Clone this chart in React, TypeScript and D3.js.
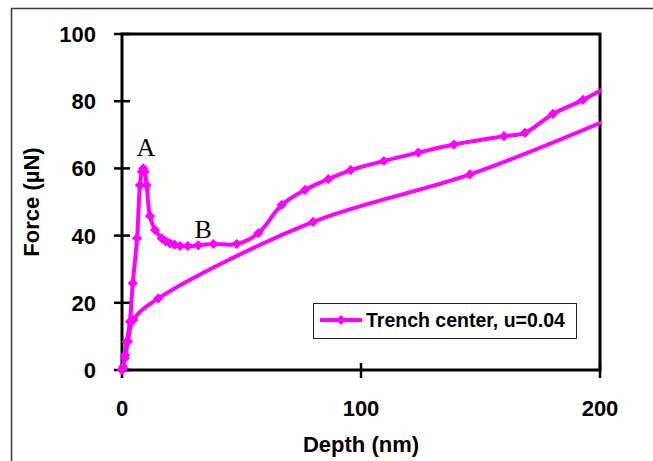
import React from "react";
import * as d3 from "d3";

// Loading branch (depth nm, force µN)
const loadDepth = [0, 0.5, 1.3, 2, 3.3, 4.5, 6.3, 7.5, 8.3, 8.9, 9.5, 10.3, 11.7, 13.8, 16.6, 18.3, 20.1, 22, 24.3, 27.5, 31.9, 38.2, 48, 57, 66.8, 76.6, 86.3, 95.7, 109.6, 124, 138.9, 159.8, 168.6, 180.3, 192.9, 206];
const loadForce = [0, 1, 4.5, 8.4, 14.4, 25.8, 39.2, 55, 59, 60, 59, 55, 45.8, 41.7, 39.2, 38.3, 37.7, 37.3, 36.9, 36.9, 37.1, 37.5, 37.5, 40.7, 49.1, 53.6, 56.8, 59.5, 62.2, 64.7, 67.1, 69.6, 70.6, 76.2, 80.4, 85.5];
// Unloading branch
const unloadDepth = [206, 145.6, 80, 15.2, 4.7, 2.5, 1.2, 0];
const unloadForce = [75.3, 58.2, 44.1, 21.3, 14.9, 8.5, 3.5, 0];

const xTicks = [0, 100, 200];
const yTicks = [0, 20, 40, 60, 80, 100];
const seriesName = "Trench center, u=0.04";
const xTitle = "Depth (nm)";
const yTitle = "Force (µN)";
const pointLabels = [
  { text: "A", depth: 10, force: 60 },
  { text: "B", depth: 34, force: 37 },
];

const W = 653, H = 461;
const L = 122, R = 600, T = 34, B = 370;
const MAG = "#FF00FF";
const FONT = "'Liberation Sans', Arial, sans-serif";

export default function App() {
  const x = d3.scaleLinear().domain([0, 200]).range([L, R]);
  const y = d3.scaleLinear().domain([0, 100]).range([B, T]);
  const load = loadDepth.map((d, i) => [d, loadForce[i]] as [number, number]);
  const unload = unloadDepth.map((d, i) => [d, unloadForce[i]] as [number, number]);
  const line = d3
    .line<[number, number]>()
    .x((d) => x(d[0]))
    .y((d) => y(d[1]))
    .curve(d3.curveCatmullRom.alpha(0.5));
  const diamond = d3.symbol(d3.symbolSquare, 52)()!;
  const pts = [...load, ...unload].filter((p) => p[0] <= 200);

  return (
    <div style={{ position: "absolute", left: 0, top: 0 }}>
      <svg width={W} height={H} style={{ display: "block", background: "#fff" }}>
        <defs>
          <clipPath id="clip">
            <rect x={0} y={0} width={R + 1} height={H} />
          </clipPath>
        </defs>
        <rect x={11.5} y={8.5} width={720} height={520} fill="none" stroke="#3a3a3a" strokeWidth={1.5} />
        <rect x={L} y={T} width={R - L} height={B - T} fill="none" stroke="#000" strokeWidth={3} />
        {yTicks.map((t) => (
          <g key={"y" + t}>
            <line x1={L - 8} x2={L + 8} y1={y(t)} y2={y(t)} stroke="#000" strokeWidth={2.5} />
            <text x={96} y={y(t)} dy="0.36em" textAnchor="end" fontFamily={FONT} fontWeight="bold" fontSize={22}>
              {t}
            </text>
          </g>
        ))}
        {xTicks.map((t) => (
          <g key={"x" + t}>
            <line x1={x(t)} x2={x(t)} y1={B - 7} y2={B + 8} stroke="#000" strokeWidth={2.5} />
            <text x={x(t)} y={416} textAnchor="middle" fontFamily={FONT} fontWeight="bold" fontSize={22}>
              {t}
            </text>
          </g>
        ))}
        <text x={(L + R) / 2} y={452} textAnchor="middle" fontFamily={FONT} fontWeight="bold" fontSize={22}>
          {xTitle}
        </text>
        <text
          transform={`translate(39,${(T + B) / 2}) rotate(-90)`}
          textAnchor="middle"
          fontFamily={FONT}
          fontWeight="bold"
          fontSize={22}
        >
          {yTitle}
        </text>
        <g clipPath="url(#clip)">
          <path d={line(load)!} fill="none" stroke={MAG} strokeWidth={4} strokeLinejoin="round" />
          <path d={line(unload)!} fill="none" stroke={MAG} strokeWidth={4} strokeLinejoin="round" />
          {pts.map((p, i) => (
            <path key={i} d={diamond} transform={`translate(${x(p[0])},${y(p[1])}) rotate(45)`} fill={MAG} />
          ))}
        </g>
        {pointLabels.map((p) => (
          <text
            key={p.text}
            x={x(p.depth)}
            y={p.text === "A" ? 156 : 238}
            textAnchor="middle"
            fontFamily="'Liberation Serif', 'Times New Roman', serif"
            fontSize={26}
          >
            {p.text}
          </text>
        ))}
        <rect x={313.5} y={303.5} width={263} height={35} fill="#fff" stroke="#222" strokeWidth={1} />
        <line x1={320} x2={362} y1={320} y2={320} stroke={MAG} strokeWidth={4} />
        <path d={diamond} transform="translate(341,320) rotate(45)" fill={MAG} />
        <text x={366} y={327} fontFamily={FONT} fontWeight="bold" fontSize={19.5}>
          {seriesName}
        </text>
      </svg>
    </div>
  );
}
